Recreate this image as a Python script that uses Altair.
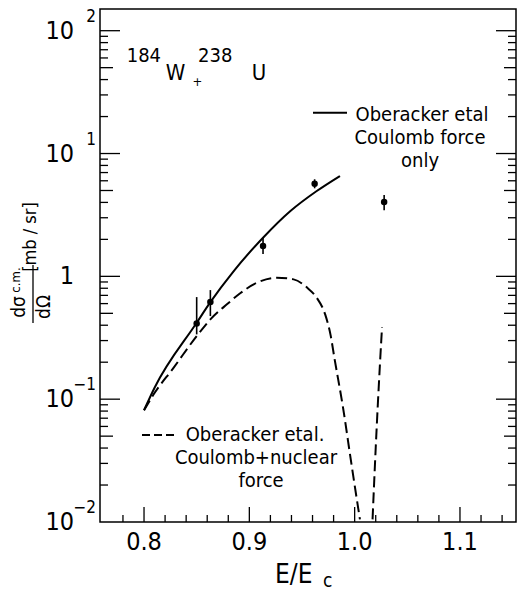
import altair as alt
import pandas as pd

FONT = "DejaVu Sans Condensed, DejaVu Sans, sans-serif"

# Coulomb-only calculation (solid curve)
coul_x = [0.800, 0.810, 0.850, 0.863, 0.885, 0.913, 0.939, 0.964, 0.986]
coul_y = [0.0813, 0.124, 0.419, 0.617, 1.10, 2.06, 3.40, 4.95, 6.56]

# Coulomb + nuclear calculation (dashed curve), two branches around the deep minimum
nuc_x_low = [0.800, 0.809, 0.828, 0.850, 0.863, 0.879, 0.891, 0.907, 0.926, 0.942,
             0.955, 0.964, 0.972, 0.977, 0.981, 0.989, 0.997, 1.005]
nuc_y_low = [0.0813, 0.109, 0.180, 0.326, 0.446, 0.595, 0.725, 0.885, 0.974, 0.945,
             0.807, 0.669, 0.490, 0.337, 0.211, 0.085, 0.0294, 0.0105]
nuc_x_high = [1.017, 1.020, 1.024, 1.026]
nuc_y_high = [0.0105, 0.0402, 0.192, 0.386]

# Measured cross sections with error bars
exp_x = [0.850, 0.863, 0.913, 0.962, 1.028]
exp_y = [0.414, 0.617, 1.77, 5.68, 4.03]
exp_lo = [0.337, 0.475, 1.52, 5.21, 3.45]
exp_hi = [0.678, 0.773, 2.06, 6.17, 4.60]

# Axis ticks and labels
x_major = [0.8, 0.9, 1.0, 1.1]
x_labels = ["0.8", "0.9", "1.0", "1.1"]
x_minor = [0.78, 0.82, 0.84, 0.86, 0.88, 0.92, 0.94, 0.96, 0.98,
           1.02, 1.04, 1.06, 1.08, 1.12, 1.14]
y_major = [0.1, 1, 10, 100]
y_five = [0.05, 0.5, 5, 50]
y_minor = [m * 10.0 ** k for k in (-2, -1, 0, 1) for m in (2, 3, 4, 6, 7, 8, 9)]
y_label_vals = [0.01, 0.1, 1, 10, 100]
y_label_base = ["10", "10", "1", "10", "10"]
y_label_exp = ["\u22122", "\u22121", "", "1", "2"]

W, H = 416, 513
xscale = alt.Scale(domain=[0.7582, 1.1532], nice=False, zero=False)
yscale = alt.Scale(type="log", domain=[0.01, 150.2], nice=False)

coul = pd.DataFrame({"e": coul_x, "s": coul_y})
nuc = pd.concat([
    pd.DataFrame({"e": nuc_x_low, "s": nuc_y_low, "branch": "low"}),
    pd.DataFrame({"e": nuc_x_high, "s": nuc_y_high, "branch": "high"}),
])
pts = pd.DataFrame({"e": exp_x, "s": exp_y, "lo": exp_lo, "hi": exp_hi})

X = alt.X("e:Q", scale=xscale, axis=None)
Y = alt.Y("s:Q", scale=yscale, axis=None)

solid = alt.Chart(coul).mark_line(
    color="black", strokeWidth=2, interpolate="monotone", clip=True
).encode(x=X, y=Y)

dashed = alt.Chart(nuc).mark_line(
    color="black", strokeWidth=2, strokeDash=[11, 5], interpolate="monotone", clip=True
).encode(x=X, y=Y, detail="branch:N")

errbars = alt.Chart(pts).mark_rule(color="black", strokeWidth=1.6).encode(
    x=X, y=alt.Y("lo:Q", scale=yscale, axis=None), y2="hi:Q"
)
dots = alt.Chart(pts).mark_point(
    filled=True, color="black", opacity=1, size=42, shape="circle"
).encode(x=X, y=Y)


def yticks(vals, length, side):
    df = pd.DataFrame({"v": vals})
    x0, x1 = (0, length) if side == "left" else (W, W - length)
    return alt.Chart(df).mark_rule(color="black", strokeWidth=1.3).encode(
        y=alt.Y("v:Q", scale=yscale, axis=None), x=alt.value(x0), x2=alt.value(x1)
    )


def xticks(vals, length):
    df = pd.DataFrame({"v": vals})
    return alt.Chart(df).mark_rule(color="black", strokeWidth=1.3).encode(
        x=alt.X("v:Q", scale=xscale, axis=None), y=alt.value(H), y2=alt.value(H - length)
    )


def txt(s, x, y, size, **kw):
    return alt.Chart(pd.DataFrame({"t": [s]})).mark_text(
        font=FONT, fontSize=size, color="black", **kw
    ).encode(text="t:N", x=alt.value(x), y=alt.value(y))


tick_layers = [
    yticks(y_major, 20, "left"), yticks(y_five, 13, "left"), yticks(y_minor, 8, "left"),
    yticks(y_major, 20, "right"), yticks(y_five, 12, "right"), yticks(y_minor, 8, "right"),
    xticks(x_major, 15), xticks(x_minor, 7),
]

ylab = pd.DataFrame({"v": y_label_vals, "b": y_label_base, "p": y_label_exp})
ylab_base = alt.Chart(ylab).mark_text(
    font=FONT, fontSize=25, align="right", baseline="middle", color="black"
).encode(y=alt.Y("v:Q", scale=yscale, axis=None), x=alt.value(-26), text="b:N")
ylab_exp = alt.Chart(ylab).mark_text(
    font=FONT, fontSize=17, align="right", baseline="middle", dy=-14, color="black"
).encode(y=alt.Y("v:Q", scale=yscale, axis=None), x=alt.value(-4), text="p:N")

xlab = alt.Chart(pd.DataFrame({"v": x_major, "t": x_labels})).mark_text(
    font=FONT, fontSize=25, align="center", baseline="middle", color="black"
).encode(x=alt.X("v:Q", scale=xscale, axis=None), y=alt.value(533), text="t:N")

# axis titles
xtitle = [
    txt("E/E", 175, 574, 26, align="left", baseline="alphabetic"),
    txt("c", 223, 578, 19, align="left", baseline="alphabetic"),
]
ytitle = [
    txt("d\u03c3", -75, 298, 19, angle=270, align="center", baseline="alphabetic"),
    txt("c.m.", -80, 271, 13, angle=270, align="center", baseline="alphabetic"),
    txt("d\u03a9", -50, 298, 19, angle=270, align="center", baseline="alphabetic"),
    txt("[mb / sr]", -64, 228, 18, angle=270, align="center", baseline="alphabetic"),
    alt.Chart(pd.DataFrame({"t": [0]})).mark_rule(color="black", strokeWidth=1.3).encode(
        x=alt.value(-67), y=alt.value(256), y2=alt.value(314)
    ),
]

# reaction label
reaction = [
    txt("184", 26.7, 52.7, 20, align="left", baseline="alphabetic"),
    txt("W", 65.7, 71, 22, align="left", baseline="alphabetic"),
    txt("+", 97.5, 72.5, 13, align="center", baseline="middle"),
    txt("238", 98, 53, 20, align="left", baseline="alphabetic"),
    txt("U", 151.7, 71, 22, align="left", baseline="alphabetic"),
]

# curve key
key = [
    alt.Chart(pd.DataFrame({"t": [0]})).mark_rule(color="black", strokeWidth=2).encode(
        x=alt.value(213), x2=alt.value(247), y=alt.value(103.7)
    ),
    txt("Oberacker etal", 322, 112, 20, align="center", baseline="alphabetic"),
    txt("Coulomb force", 320, 134.5, 20, align="center", baseline="alphabetic"),
    txt("only", 320, 157.5, 20, align="center", baseline="alphabetic"),
    alt.Chart(pd.DataFrame({"t": [0]})).mark_rule(
        color="black", strokeWidth=2, strokeDash=[8, 4]
    ).encode(x=alt.value(42), x2=alt.value(74), y=alt.value(426)),
    txt("Oberacker etal.", 155, 432, 20, align="center", baseline="alphabetic"),
    txt("Coulomb+nuclear", 156, 455, 20, align="center", baseline="alphabetic"),
    txt("force", 161, 478, 20, align="center", baseline="alphabetic"),
]

chart = alt.layer(
    *tick_layers, solid, dashed, errbars, dots, ylab_base, ylab_exp, xlab,
    *xtitle, *ytitle, *reaction, *key
).properties(
    width=W, height=H, autosize="none",
    padding={"left": 100, "top": 9, "right": 1, "bottom": 70},
).configure_view(stroke="black", strokeWidth=1.5)

chart.save("out.html", embed_options={"renderer": "svg", "actions": False})
